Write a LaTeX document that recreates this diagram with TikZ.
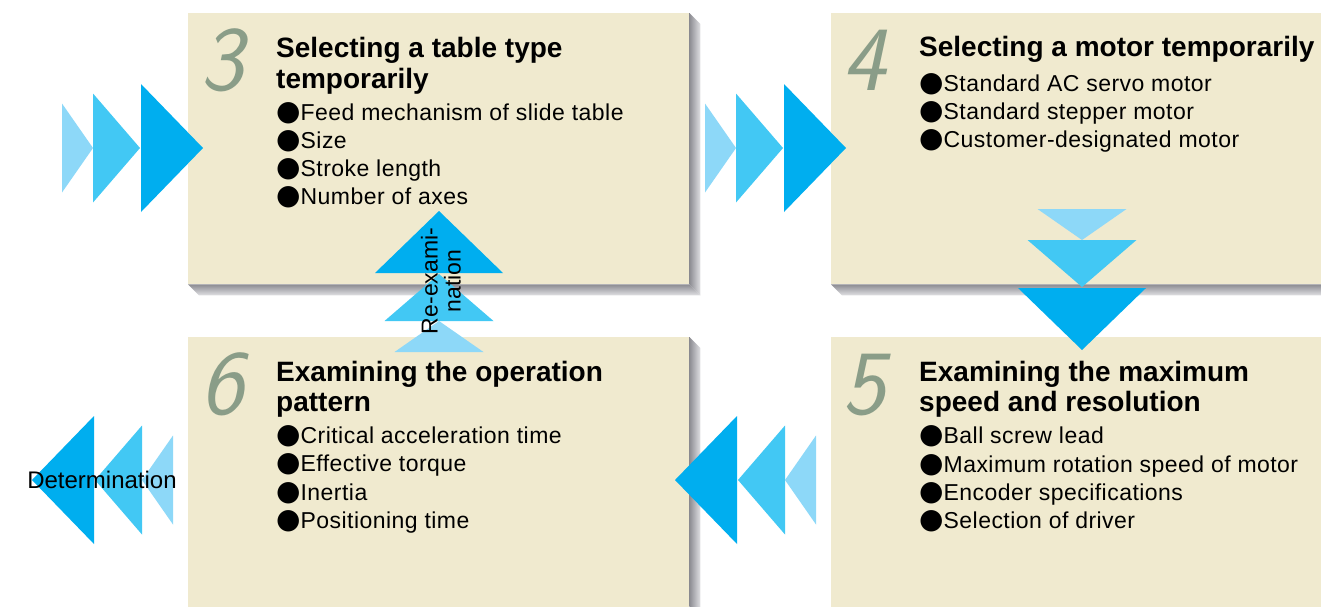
\documentclass[tikz,border=0pt]{standalone}
\usepackage{fontspec}
\setmainfont{Liberation Sans}
\newfontfamily\titlefont{Liberation Sans}
\newfontfamily\itemfont{Liberation Sans}[LetterSpace=2]
\newfontfamily\bltfont{DejaVu Sans}
\usetikzlibrary{calc}
\definecolor{panelfill}{RGB}{240,234,207}
\definecolor{numcol}{RGB}{138,157,136}
\definecolor{tdark}{RGB}{0,174,239}
\definecolor{tmid}{RGB}{66,200,244}
\definecolor{tlight}{RGB}{141,216,248}
\definecolor{shadein}{RGB}{140,140,146}
\definecolor{shadeout}{RGB}{225,225,228}
\newcommand{\blt}{{\bltfont\fontsize{28}{28}\selectfont\raisebox{-0.5pt}{●}}}

\begin{document}
\begin{tikzpicture}[x=1pt, y=-1pt,
    panel/.style={rectangle, fill=panelfill, inner sep=0pt, anchor=north west},
    stepnum/.style={font=\sffamily\itshape\fontsize{92}{92}\selectfont, text=numcol, anchor=base west, inner sep=0pt},
    headline/.style={font=\titlefont\bfseries\fontsize{28}{31}\selectfont, anchor=base west, inner sep=0pt},
    entry/.style={font=\itemfont\fontsize{23}{28}\selectfont, anchor=base west, inner sep=0pt},
    triple/.pic={
      \fill[tlight] (0,-44.5) -- (31,0) -- (0,44.5) -- cycle;
      \fill[tmid] (31,-54.5) -- (78,0) -- (31,54.5) -- cycle;
      \fill[tdark] (79,-64) -- (141,0) -- (79,64) -- cycle;
    }]
\clip (0,0) rectangle (1321,606);
\fill[white] (0,0) rectangle (1321,606);
% panels
\node[panel, minimum width=501, minimum height=271] (box3) at (188,13) {};
\node[panel, minimum width=510, minimum height=271] (box4) at (831,13) {};
\node[panel, minimum width=501, minimum height=283] (box6) at (188,337) {};
\node[panel, minimum width=510, minimum height=283] (box5) at (831,337) {};
\foreach \b in {box3,box4,box6,box5}{
  \shade[left color=shadein, right color=shadeout] (\b.north east) -- ++(11,11) -- ($(\b.south east)+(11,11)$) -- (\b.south east) -- cycle;
  \shade[top color=shadein, bottom color=shadeout] (\b.south west) -- ++(11,11) -- ($(\b.south east)+(11,11)$) -- (\b.south east) -- cycle;
}
% flow triangles
\pic (inflow) at (62,148) {triple};
\pic (flow34) at (705,148) {triple};
\pic[rotate=-90] (flow45) at (1082,209) {triple};
\pic[rotate=180] (flow56) at (816,480) {triple};
\pic[rotate=180] (outflow) at (173,480) {triple};
\pic[rotate=90] (back63) at (439,352) {triple};
% step 3
\node[stepnum] (num3) at (200,90) {3};
\node[headline] (head3a) at (276,57) {Selecting a table type};
\node[headline] (head3b) at (276,88) {temporarily};
\node[entry] (item3a) at (276,120) {\blt Feed mechanism of slide table};
\node[entry] (item3b) at (276,148) {\blt Size};
\node[entry] (item3c) at (276,176) {\blt Stroke length};
\node[entry] (item3d) at (276,204) {\blt Number of axes};
% step 4
\node[stepnum] (num4) at (842,90) {4};
\node[headline] (head4) at (919,56) {Selecting a motor temporarily};
\node[entry] (item4a) at (919,91) {\blt Standard AC servo motor};
\node[entry] (item4b) at (919,119) {\blt Standard stepper motor};
\node[entry] (item4c) at (919,147) {\blt Customer-designated motor};
% step 5
\node[stepnum] (num5) at (842,414) {5};
\node[headline] (head5a) at (919,381) {Examining the maximum};
\node[headline] (head5b) at (919,411) {speed and resolution};
\node[entry] (item5a) at (919,443) {\blt Ball screw lead};
\node[entry] (item5b) at (919,472) {\blt Maximum rotation speed of motor};
\node[entry] (item5c) at (919,500) {\blt Encoder specifications};
\node[entry] (item5d) at (919,528) {\blt Selection of driver};
% step 6
\node[stepnum] (num6) at (200,414) {6};
\node[headline] (head6a) at (276,381) {Examining the operation};
\node[headline] (head6b) at (276,411) {pattern};
\node[entry] (item6a) at (276,443) {\blt Critical acceleration time};
\node[entry] (item6b) at (276,471) {\blt Effective torque};
\node[entry] (item6c) at (276,500) {\blt Inertia};
\node[entry] (item6d) at (276,528) {\blt Positioning time};
% arrow labels
\node[font=\fontsize{23}{23}\selectfont, rotate=90, align=center, inner sep=0pt] (reexam) at (441,281) {Re-exami-\\nation};
\node[font=\fontsize{24}{24}\selectfont, anchor=base, inner sep=0pt] (determ) at (102,488) {Determination};
\end{tikzpicture}
\end{document}
